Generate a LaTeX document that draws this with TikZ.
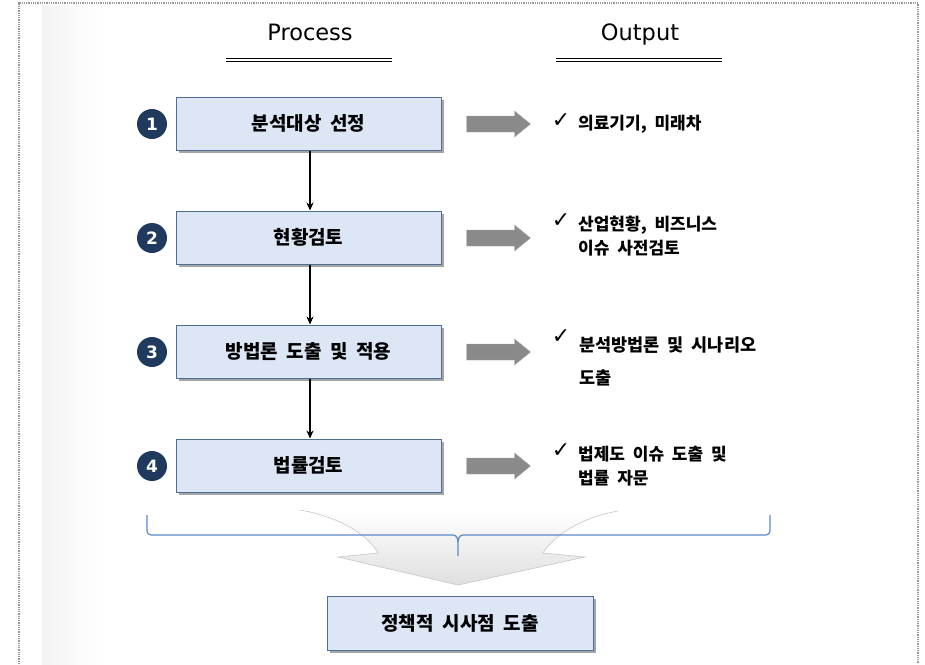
\documentclass[tikz,border=0pt]{standalone}
\usepackage{fontspec}
\setmainfont{Noto Sans CJK KR}[WordSpace=2]
\newfontfamily\dejavu{DejaVu Sans}
\usetikzlibrary{arrows.meta,shadows}
\definecolor{boxfill}{HTML}{DCE6F4}
\definecolor{boxline}{HTML}{4F6D96}
\definecolor{navy}{HTML}{1F3A5C}
\definecolor{brblue}{HTML}{5B8BC9}
\definecolor{garrow}{HTML}{8A8A8A}
\tikzset{
  procbox/.style={draw=boxline, line width=1pt, fill=boxfill, minimum width=265pt, minimum height=53pt, inner sep=0pt,
    font=\fontsize{19}{22}\selectfont\bfseries,
    drop shadow={shadow xshift=2.5pt, shadow yshift=-2.5pt, fill=black, opacity=0.35}},
  numdot/.style={circle, fill=navy, minimum size=30pt, inner sep=0pt, text=white, font=\dejavu\fontsize{17}{19}\selectfont\bfseries},
  grayarrow/.style={fill=garrow, draw=gray!70, line width=0.4pt},
  outtext/.style={anchor=west, align=left, inner sep=0pt, font=\fontsize{17}{24}\selectfont\bfseries},
  chk/.style={inner sep=0pt, font=\dejavu\fontsize{22}{24}\selectfont},
  flow/.style={line width=1.1pt, -{Stealth[length=8pt,width=7pt]}},
  hdr/.style={anchor=base, font=\dejavu\fontsize{22.5}{26}\selectfont},
  dline/.style={line width=0.9pt},
  pics/garr/.style={code={
    \path[grayarrow] (-32,-8) -- (16,-8) -- (16,-13) -- (32,0) -- (16,13) -- (16,8) -- (-32,8) -- cycle;}},
}
\begin{document}
\begin{tikzpicture}[x=1pt,y=-1pt]
\useasboundingbox (0,0) rectangle (925,664);
% left fading band
\shade[left color=gray!9, right color=white] (42,5) rectangle (100,664);
% frame
\draw[gray!80, line width=1.2pt, dash pattern=on 1pt off 0.8pt] (19,664) -- (19,3) -- (918,3) -- (918,664);
% headers
\node[hdr] (hp) at (310,40.5) {Process};
\node[hdr] (ho) at (640,40.5) {Output};
\draw[dline] (226,58) -- (392,58);
\draw[dline] (226,61.5) -- (392,61.5);
\draw[dline] (556,58) -- (722,58);
\draw[dline] (556,61.5) -- (722,61.5);
% boxes
\node[procbox] (b1) at (308.5,123.5) {분석대상 선정};
\node[procbox] (b2) at (308.5,237.5) {현황검토};
\node[procbox] (b3) at (308.5,351.5) {방법론 도출 및 적용};
\node[procbox] (b4) at (308.5,465.5) {법률검토};
% numbers
\node[numdot] (c1) at (152,124) {1};
\node[numdot] (c2) at (152,238) {2};
\node[numdot] (c3) at (152,352) {3};
\node[numdot] (c4) at (152,466) {4};
% flow arrows
\draw[flow] (b1.south -| 310,0) -- (b2.north -| 310,0);
\draw[flow] (b2.south -| 310,0) -- (b3.north -| 310,0);
\draw[flow] (b3.south -| 310,0) -- (b4.north -| 310,0);
% gray arrows
\pic (g1) at (498.5,124) {garr};
\pic (g2) at (498.5,238) {garr};
\pic (g3) at (498.5,352) {garr};
\pic (g4) at (498.5,466) {garr};
% outputs
\node[chk] (k1) at (561,121) {✓};
\node[outtext] (o1) at (578,124) {의료기기, 미래차};
\node[chk] (k2) at (561,221) {✓};
\node[outtext] (o2) at (578,236) {산업현황, 비즈니스\\이슈 사전검토};
\node[chk] (k3) at (561,337) {✓};
\node[outtext, font=\fontsize{17.5}{33}\selectfont\bfseries] (o3) at (579,361) {분석방법론 및 시나리오\\도출};
\node[chk] (k4) at (561,451) {✓};
\node[outtext] (o4) at (578,466) {법제도 이슈 도출 및\\법률 자문};
% big arrow
\shade[top color=white, bottom color=gray!25, draw=gray!45, line width=0.6pt]
  (300,510) .. controls (345,518) and (370,538) .. (378,553)
  -- (338,557) -- (458,585) -- (585,557) -- (543,553)
  .. controls (552,538) and (578,518) .. (618,511);
\fill[white] (300,505) rectangle (618,509.5);
% bracket
\draw[brblue, line width=1.2pt, line join=round]
  (147,515) -- (147,531) to[out=-90,in=180] (151,535) -- (453,535) to[out=0,in=90] (458,542) -- (458,556);
\draw[brblue, line width=1.2pt, line join=round]
  (458,542) to[out=90,in=180] (463,535) -- (766,535) to[out=0,in=-90] (770,531) -- (770,515);
% result box
\node[procbox, minimum width=266pt, minimum height=54pt] (b5) at (460,623) {정책적 시사점 도출};
\end{tikzpicture}
\end{document}
